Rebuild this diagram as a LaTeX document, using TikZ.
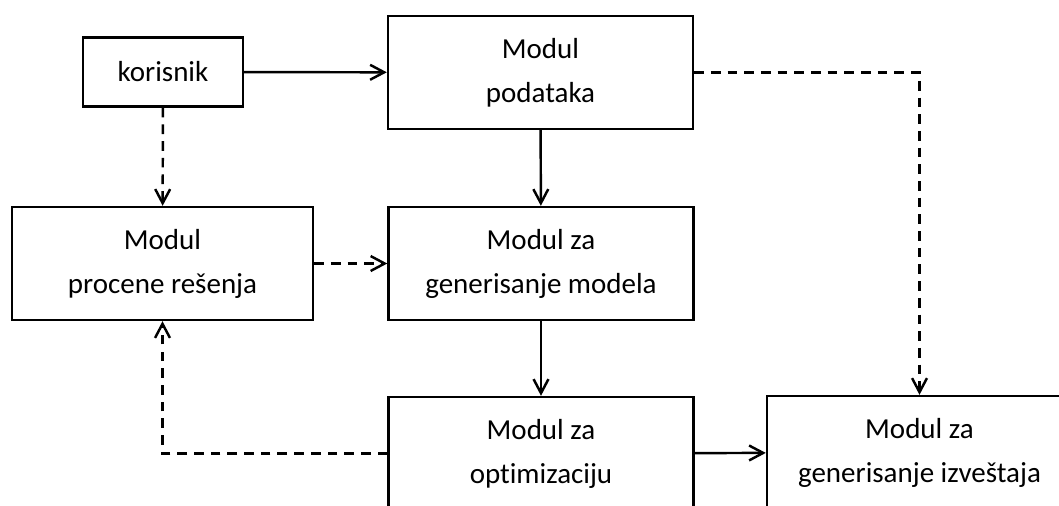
\documentclass[tikz,border=0pt]{standalone}
\usepackage{fontspec}
\setmainfont[Ligatures=NoCommon]{Carlito}
\usetikzlibrary{arrows.meta}
\begin{document}
\begin{tikzpicture}[x=0.02cm, y=-0.02cm, line width=1.4pt,
  modul/.style={draw, line width=1.4pt, align=center, inner sep=0pt,
    minimum width=6.1cm, minimum height=2.26cm,
    font=\fontsize{16.5}{25}\selectfont},
  tok/.style={-{Straight Barb[length=8pt, width=8.5pt, line width=1.4pt]}},
  crtice/.style={tok, dash pattern=on 5.5pt off 4pt}]
  \useasboundingbox (0,0) rectangle (1059,505);
  \clip (0,0) rectangle (1059,505);
  \node[modul, minimum width=3.2cm, minimum height=1.38cm] (korisnik) at (163,72) {korisnik};
  \node[modul] (podaci) at (540.5,72.5) {Modul\\podataka};
  \node[modul, minimum width=6.02cm] (procena) at (162.5,263.5) {Modul\\procene rešenja};
  \node[modul] (generator) at (541,263.5) {Modul za\\generisanje modela};
  \node[modul] (optimizacija) at (541,453.5) {Modul za\\optimizaciju};
  \node[modul] (izvestaj) at (919.5,452.5) {Modul za\\generisanje izveštaja};
  \draw[tok] (korisnik) -- (podaci);
  \draw[crtice] (korisnik) -- (procena);
  \draw[tok] (podaci) -- (generator);
  \draw[crtice] (podaci.east) -| (izvestaj.north);
  \draw[crtice] (procena) -- (generator);
  \draw[tok] (generator) -- (optimizacija);
  \draw[crtice] (optimizacija.west) -| (procena.south);
  \draw[tok] (optimizacija) -- (izvestaj);
\end{tikzpicture}
\end{document}
